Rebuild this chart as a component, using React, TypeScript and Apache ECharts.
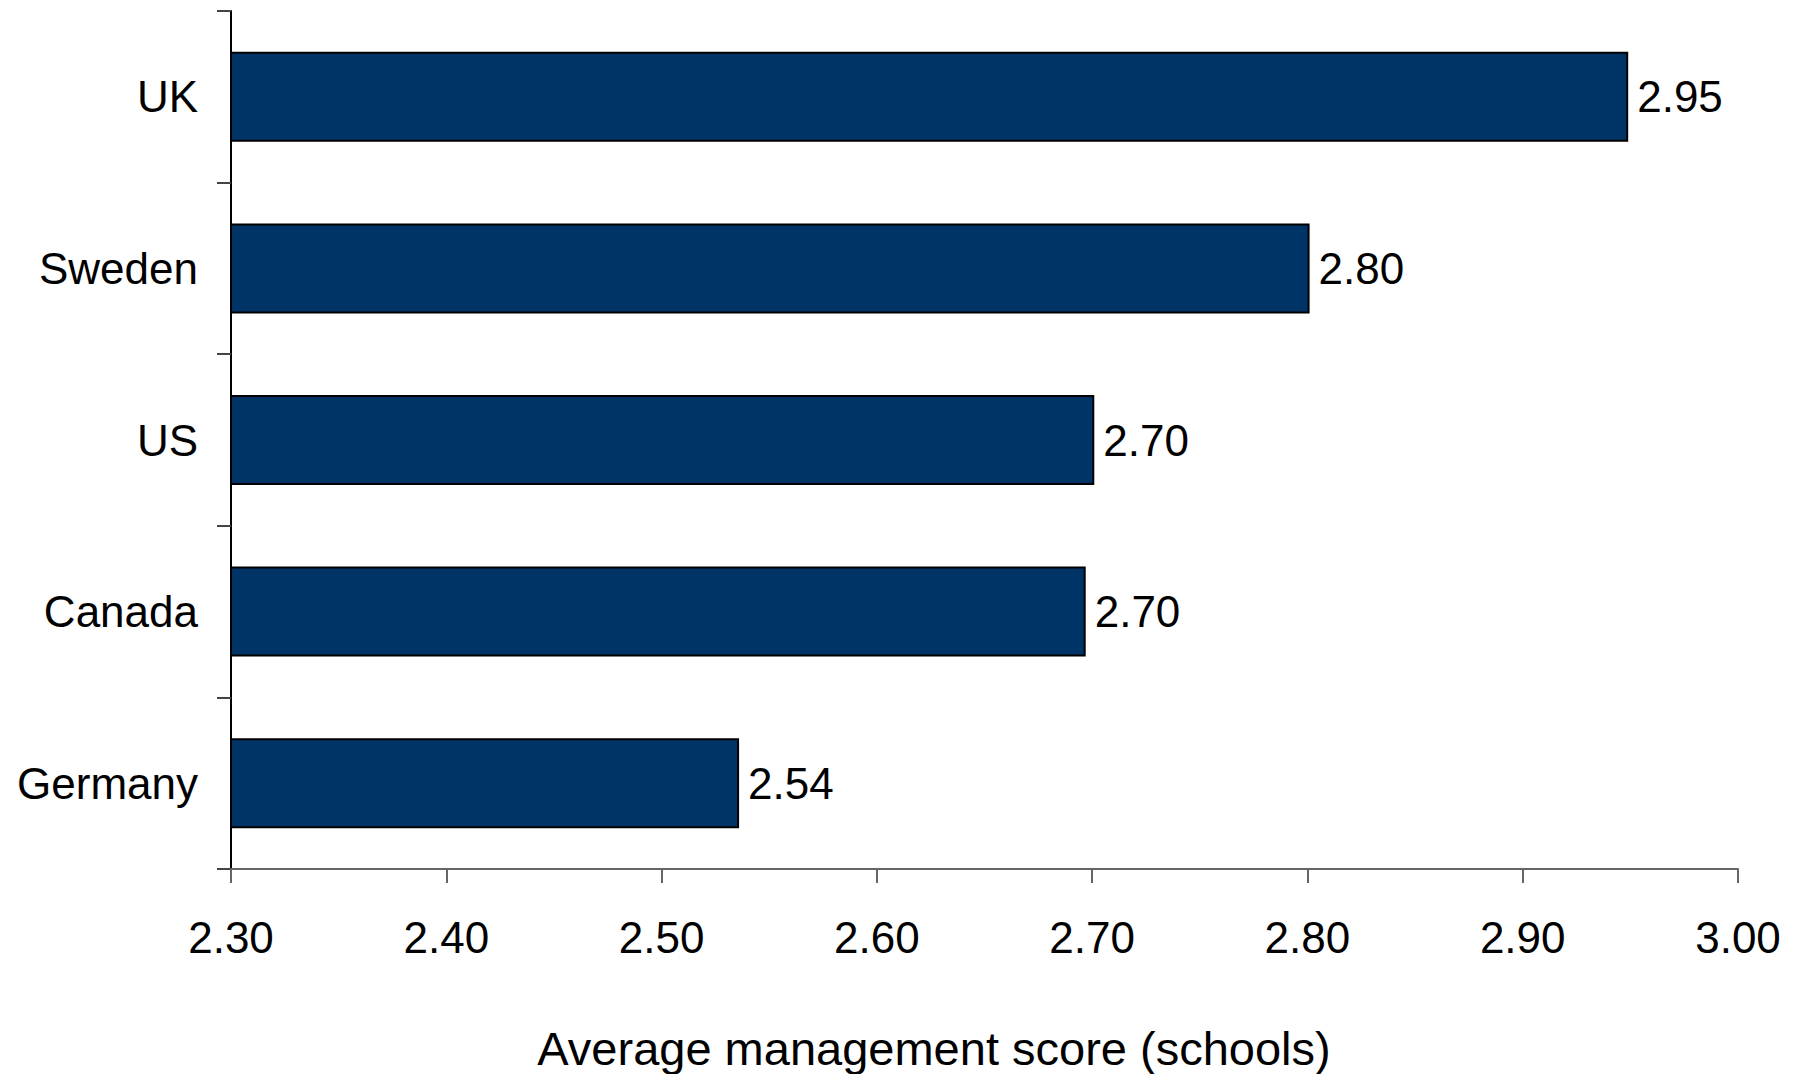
import React, { useEffect, useRef } from "react";
import * as echarts from "echarts";

const categories = ["UK", "Sweden", "US", "Canada", "Germany"];
const scores = [2.949, 2.801, 2.701, 2.697, 2.536];
const scoreLabels = ["2.95", "2.80", "2.70", "2.70", "2.54"];
const xTicks = ["2.30", "2.40", "2.50", "2.60", "2.70", "2.80", "2.90", "3.00"];
const axisTitle = "Average management score (schools)";

const FONT = "'Liberation Sans', Arial, Helvetica, sans-serif";

export default function App() {
  const ref = useRef<HTMLDivElement>(null);
  useEffect(() => {
    if (!ref.current) return;
    const chart = echarts.init(ref.current, null, { renderer: "svg" });
    chart.setOption({
      animation: false,
      backgroundColor: "#ffffff",
      grid: { left: 231, right: 62, top: 11, bottom: 205, containLabel: false },
      xAxis: {
        type: "value",
        min: 2.3,
        max: 3.0,
        interval: 0.1,
        splitLine: { show: false },
        axisLine: { show: true, lineStyle: { color: "#666666", width: 2 } },
        axisTick: { show: true, length: 14, lineStyle: { color: "#666666", width: 2 } },
        axisLabel: {
          margin: 46,
          fontSize: 44,
          fontFamily: FONT,
          color: "#000000",
          formatter: (v: number) => {
            const i = Math.round((v - 2.3) * 10);
            return xTicks[i] ?? v.toFixed(2);
          },
        },
      },
      yAxis: {
        type: "category",
        data: categories,
        inverse: true,
        axisLine: { show: true, lineStyle: { color: "#000000", width: 2 } },
        axisTick: { show: true, length: 14, lineStyle: { color: "#444444", width: 2 } },
        axisLabel: { margin: 33, fontSize: 44, fontFamily: FONT, color: "#000000" },
        splitLine: { show: false },
      },
      series: [
        {
          type: "bar",
          data: scores,
          barWidth: 90,
          itemStyle: { color: "#003366", borderColor: "#000000", borderWidth: 2 },
          label: {
            show: true,
            position: "right",
            distance: 9,
            fontSize: 44,
            fontFamily: FONT,
            color: "#000000",
            formatter: (p: any) => scoreLabels[p.dataIndex],
          },
        },
      ],
      graphic: [
        {
          type: "text",
          x: 934,
          y: 1048,
          style: {
            text: axisTitle,
            fontSize: 47,
            fontFamily: FONT,
            fill: "#000000",
            textAlign: "center",
            textVerticalAlign: "middle",
          },
        },
      ],
    });
    return () => chart.dispose();
  }, []);
  return <div ref={ref} style={{ width: 1800, height: 1074, position: "absolute", left: 0, top: 0 }} />;
}
